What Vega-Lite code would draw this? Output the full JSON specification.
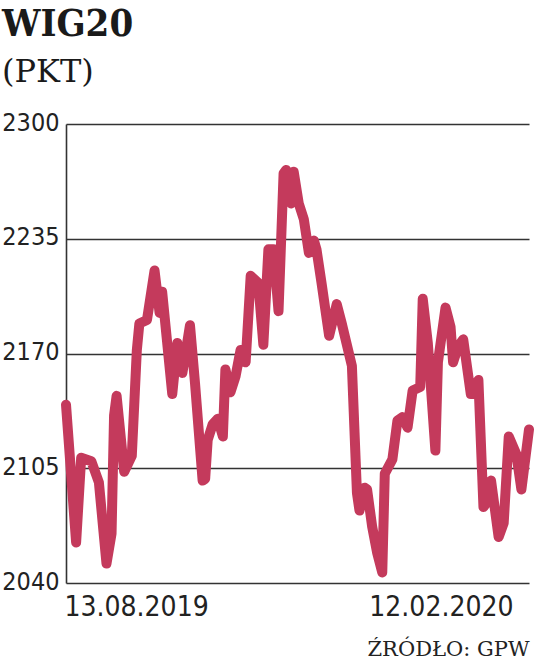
{
  "$schema": "https://vega.github.io/schema/vega-lite/v6.json",
  "width": 463,
  "height": 459,
  "autosize": {"type": "none"},
  "padding": {"left": 66, "top": 124, "right": 7, "bottom": 83},
  "background": "white",
  "title": {
    "text": "WIG20",
    "subtitle": "(PKT)",
    "anchor": "start",
    "frame": "group",
    "dx": -64,
    "offset": 22,
    "font": "DejaVu Serif Condensed, DejaVu Serif",
    "fontSize": 38,
    "fontWeight": "bold",
    "color": "#1a1a1a",
    "subtitleFont": "DejaVu Serif",
    "subtitleFontSize": 32,
    "subtitleColor": "#1a1a1a",
    "subtitlePadding": 13
  },
  "data": {
    "values": [
      {"date": "2019-08-13", "pkt": 2141},
      {"date": "2019-08-17", "pkt": 2063},
      {"date": "2019-08-19", "pkt": 2111},
      {"date": "2019-08-23", "pkt": 2109},
      {"date": "2019-08-26", "pkt": 2097},
      {"date": "2019-08-29", "pkt": 2051},
      {"date": "2019-08-31", "pkt": 2068},
      {"date": "2019-09-01", "pkt": 2135},
      {"date": "2019-09-02", "pkt": 2146},
      {"date": "2019-09-05", "pkt": 2103},
      {"date": "2019-09-08", "pkt": 2112},
      {"date": "2019-09-10", "pkt": 2172},
      {"date": "2019-09-11", "pkt": 2187},
      {"date": "2019-09-14", "pkt": 2189},
      {"date": "2019-09-17", "pkt": 2217},
      {"date": "2019-09-19", "pkt": 2193},
      {"date": "2019-09-20", "pkt": 2205},
      {"date": "2019-09-24", "pkt": 2147},
      {"date": "2019-09-26", "pkt": 2176},
      {"date": "2019-09-28", "pkt": 2159},
      {"date": "2019-10-01", "pkt": 2186},
      {"date": "2019-10-03", "pkt": 2153},
      {"date": "2019-10-06", "pkt": 2098},
      {"date": "2019-10-07", "pkt": 2099},
      {"date": "2019-10-08", "pkt": 2121},
      {"date": "2019-10-10", "pkt": 2130},
      {"date": "2019-10-12", "pkt": 2133},
      {"date": "2019-10-14", "pkt": 2123},
      {"date": "2019-10-15", "pkt": 2161},
      {"date": "2019-10-17", "pkt": 2148},
      {"date": "2019-10-19", "pkt": 2157},
      {"date": "2019-10-21", "pkt": 2172},
      {"date": "2019-10-23", "pkt": 2165},
      {"date": "2019-10-25", "pkt": 2214},
      {"date": "2019-10-28", "pkt": 2210},
      {"date": "2019-10-30", "pkt": 2175},
      {"date": "2019-11-01", "pkt": 2229},
      {"date": "2019-11-03", "pkt": 2229},
      {"date": "2019-11-05", "pkt": 2194},
      {"date": "2019-11-07", "pkt": 2272},
      {"date": "2019-11-08", "pkt": 2274},
      {"date": "2019-11-10", "pkt": 2255},
      {"date": "2019-11-11", "pkt": 2273},
      {"date": "2019-11-13", "pkt": 2255},
      {"date": "2019-11-15", "pkt": 2246},
      {"date": "2019-11-17", "pkt": 2227},
      {"date": "2019-11-19", "pkt": 2234},
      {"date": "2019-11-20", "pkt": 2229},
      {"date": "2019-11-22", "pkt": 2210},
      {"date": "2019-11-25", "pkt": 2180},
      {"date": "2019-11-28", "pkt": 2198},
      {"date": "2019-11-30", "pkt": 2187},
      {"date": "2019-12-04", "pkt": 2163},
      {"date": "2019-12-06", "pkt": 2091},
      {"date": "2019-12-07", "pkt": 2081},
      {"date": "2019-12-09", "pkt": 2094},
      {"date": "2019-12-10", "pkt": 2093},
      {"date": "2019-12-12", "pkt": 2072},
      {"date": "2019-12-14", "pkt": 2057},
      {"date": "2019-12-16", "pkt": 2046},
      {"date": "2019-12-17", "pkt": 2102},
      {"date": "2019-12-20", "pkt": 2110},
      {"date": "2019-12-22", "pkt": 2132},
      {"date": "2019-12-24", "pkt": 2134},
      {"date": "2019-12-26", "pkt": 2128},
      {"date": "2019-12-28", "pkt": 2149},
      {"date": "2019-12-31", "pkt": 2151},
      {"date": "2020-01-01", "pkt": 2201},
      {"date": "2020-01-03", "pkt": 2176},
      {"date": "2020-01-06", "pkt": 2115},
      {"date": "2020-01-07", "pkt": 2165},
      {"date": "2020-01-10", "pkt": 2196},
      {"date": "2020-01-12", "pkt": 2185},
      {"date": "2020-01-13", "pkt": 2165},
      {"date": "2020-01-15", "pkt": 2174},
      {"date": "2020-01-17", "pkt": 2178},
      {"date": "2020-01-20", "pkt": 2147},
      {"date": "2020-01-22", "pkt": 2147},
      {"date": "2020-01-23", "pkt": 2155},
      {"date": "2020-01-25", "pkt": 2083},
      {"date": "2020-01-26", "pkt": 2085},
      {"date": "2020-01-28", "pkt": 2098},
      {"date": "2020-01-31", "pkt": 2066},
      {"date": "2020-02-02", "pkt": 2074},
      {"date": "2020-02-04", "pkt": 2123},
      {"date": "2020-02-07", "pkt": 2113},
      {"date": "2020-02-09", "pkt": 2093},
      {"date": "2020-02-12", "pkt": 2127}
    ]
  },
  "mark": {
    "type": "line",
    "color": "#c43a5c",
    "strokeWidth": 10,
    "strokeJoin": "round",
    "strokeCap": "round",
    "clip": false
  },
  "encoding": {
    "x": {
      "field": "date",
      "type": "temporal",
      "scale": {
        "type": "utc",
        "domain": [
          {"year": 2019, "month": 8, "date": 13, "utc": true},
          {"year": 2020, "month": 2, "date": 12, "utc": true}
        ]
      },
      "axis": {
        "values": [
          {"year": 2019, "month": 8, "date": 13, "utc": true},
          {"year": 2020, "month": 2, "date": 12, "utc": true}
        ],
        "format": "%d.%m.%Y",
        "tickSize": 0,
        "domain": false,
        "grid": false,
        "labelFont": "DejaVu Sans Condensed, Roboto",
        "labelFontSize": 28,
        "labelColor": "#222222",
        "labelPadding": 10,
        "labelAlign": {"condition": {"test": "datum.index == 0", "value": "left"}, "value": "right"},
        "labelOffset": {"condition": {"test": "datum.index == 0", "value": -2}, "value": -16},
        "title": "ŹRÓDŁO: GPW",
        "titleFont": "DejaVu Serif",
        "titleFontSize": 21,
        "titleFontWeight": "normal",
        "titleColor": "#222222",
        "titleAnchor": "end",
        "titlePadding": 17
      }
    },
    "y": {
      "field": "pkt",
      "type": "quantitative",
      "scale": {"domain": [2040, 2300], "nice": false, "zero": false},
      "axis": {
        "values": [2040, 2105, 2170, 2235, 2300],
        "format": "d",
        "grid": true,
        "gridColor": "#333333",
        "gridWidth": 1.6,
        "domain": true,
        "domainColor": "#333333",
        "domainWidth": 1.6,
        "tickSize": 0,
        "labelPadding": 7,
        "labelFont": "DejaVu Sans Condensed, Roboto",
        "labelFontSize": 25,
        "labelColor": "#222222",
        "labelBaseline": "middle",
        "labelOffset": -2,
        "title": null
      }
    }
  },
  "config": {"view": {"stroke": null}}
}
